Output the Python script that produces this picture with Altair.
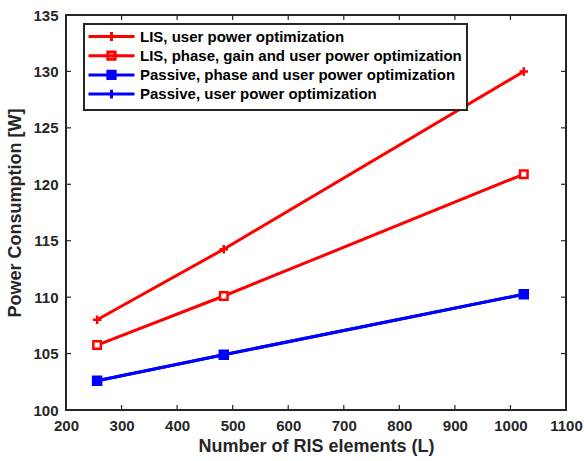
import altair as alt
import pandas as pd

series = [
    "LIS, user power optimization",
    "LIS, phase, gain and user power optimization",
    "Passive, phase and user power optimization",
    "Passive, user power optimization",
]
L = [256, 484, 1024]
lis_user = [108.0, 114.25, 130.0]
lis_phase = [105.75, 110.1, 120.9]
passive_phase = [102.6, 104.9, 110.25]
passive_user = [102.6, 104.9, 110.25]
colors = ["#ff0000", "#ff0000", "#0000ff", "#0000ff"]
fills = ["#ff0000", "#ffffff", "#0000ff", "#0000ff"]
x_ticks = [200, 300, 400, 500, 600, 700, 800, 900, 1000, 1100]
y_ticks = [100, 105, 110, 115, 120, 125, 130, 135]

values_by_series = {
    series[3]: passive_user,
    series[2]: passive_phase,
    series[1]: lis_phase,
    series[0]: lis_user,
}
rows = []
for s, vals in values_by_series.items():
    for x, y in zip(L, vals):
        rows.append({"series": s, "L": x, "P": y})
df = pd.DataFrame(rows)
xt = pd.DataFrame({"v": x_ticks})
yt = pd.DataFrame({"v": y_ticks})

W, H = 500, 395
AX = "#262626"
FONT = "Liberation Sans"

xscale = alt.Scale(domain=[200, 1100], nice=False, zero=False)
yscale = alt.Scale(domain=[100, 135], nice=False, zero=False)

plot_paths = [
    "M-0.85,0H0.85M0,-0.85V0.85",
    "M-0.75,-0.75H0.75V0.75H-0.75Z",
    "M-0.8,-0.8H0.8V0.8H-0.8Z",
    "M-0.85,0H0.85M0,-0.85V0.85",
]
# legend symbols drawn at size 64 (unit = 4 px): line 46 px with centred marker
legend_paths = [
    "M-2,0H9.5M3.75,-1.1V1.1",
    "M-2,0H9.5M2.85,-0.9H4.65V0.9H2.85Z",
    "M-2,0H9.5M2.85,-0.9H4.65V0.9H2.85Z",
    "M-2,0H9.5M3.75,-1.1V1.1",
]

xaxis = alt.Axis(
    values=x_ticks,
    format="d",
    labelFlush=False,
    labelOverlap=False,
    title="Number of RIS elements (L)",
    labelPadding=8,
    titlePadding=4,
)
yaxis = alt.Axis(
    values=y_ticks,
    format="d",
    labelFlush=False,
    labelOverlap=False,
    title="Power Consumption [W]",
    labelPadding=8,
    titlePadding=8,
)

lines = alt.Chart(df).mark_line(strokeWidth=3).encode(
    x=alt.X("L:Q", scale=xscale, axis=xaxis),
    y=alt.Y("P:Q", scale=yscale, axis=yaxis),
    color=alt.Color("series:N", scale=alt.Scale(domain=series, range=colors), legend=None),
    detail="series:N",
)

points = alt.Chart(df).mark_point(opacity=1, strokeWidth=2.5, size=100, filled=False).encode(
    x=alt.X("L:Q", scale=xscale, axis=xaxis),
    y=alt.Y("P:Q", scale=yscale, axis=yaxis),
    shape=alt.Shape("series:N", scale=alt.Scale(domain=series, range=plot_paths), legend=None),
    stroke=alt.Stroke("series:N", scale=alt.Scale(domain=series, range=colors), legend=None),
    fill=alt.Fill("series:N", scale=alt.Scale(domain=series, range=fills), legend=None),
)

leg = alt.Legend(
    title=None,
    orient="none",
    legendX=18,
    legendY=9,
    padding=5,
    symbolSize=64,
    symbolStrokeWidth=3,
    symbolOpacity=1,
    labelOffset=36,
    rowPadding=-1.8,
    labelFont=FONT,
    labelFontSize=15,
    labelFontWeight="bold",
    labelColor="#000000",
    strokeColor=AX,
    fillColor="#ffffff",
    labelLimit=0,
)
fills_leg = ["#ffffff", "#ffffff", "#0000ff", "#ffffff"]
legend_layer = alt.Chart(df).transform_filter("false").mark_point(
    opacity=1, strokeWidth=3, size=64, filled=False
).encode(
    x=alt.X("L:Q", scale=xscale, axis=xaxis),
    y=alt.Y("P:Q", scale=yscale, axis=yaxis),
    shape=alt.Shape("series:N", scale=alt.Scale(domain=series, range=legend_paths), legend=leg),
    stroke=alt.Stroke("series:N", scale=alt.Scale(domain=series, range=colors), legend=leg),
    fill=alt.Fill("series:N", scale=alt.Scale(domain=series, range=fills_leg), legend=leg),
)

tick_style = dict(color=AX, strokeWidth=1.2)
xt_bottom = alt.Chart(xt).mark_rule(**tick_style).encode(
    x=alt.X("v:Q", scale=xscale, axis=xaxis), y=alt.value(H), y2=alt.value(H - 5)
)
xt_top = alt.Chart(xt).mark_rule(**tick_style).encode(
    x=alt.X("v:Q", scale=xscale, axis=xaxis), y=alt.value(0), y2=alt.value(5)
)
yt_left = alt.Chart(yt).mark_rule(**tick_style).encode(
    y=alt.Y("v:Q", scale=yscale, axis=yaxis), x=alt.value(0), x2=alt.value(5)
)
yt_right = alt.Chart(yt).mark_rule(**tick_style).encode(
    y=alt.Y("v:Q", scale=yscale, axis=yaxis), x=alt.value(W), x2=alt.value(W - 5)
)

chart = (
    alt.layer(lines, points, xt_bottom, xt_top, yt_left, yt_right, legend_layer)
    .resolve_scale(shape="independent", stroke="independent", fill="independent")
    .properties(
        width=W,
        height=H,
        autosize=alt.AutoSizeParams(type="none"),
        padding={"left": 66, "top": 15, "right": 18, "bottom": 51},
        background="#ffffff",
    )
    .configure_view(stroke=AX, strokeWidth=2)
    .configure_legend(strokeWidth=2)
    .configure_axis(
        grid=False,
        ticks=False,
        domain=False,
        labelFont=FONT,
        labelFontSize=15,
        labelFontWeight="bold",
        labelColor=AX,
        titleFont=FONT,
        titleFontSize=18,
        titleFontWeight="bold",
        titleColor=AX,
    )
)

chart.save("out.html", embed_options={"renderer": "svg", "actions": False})
